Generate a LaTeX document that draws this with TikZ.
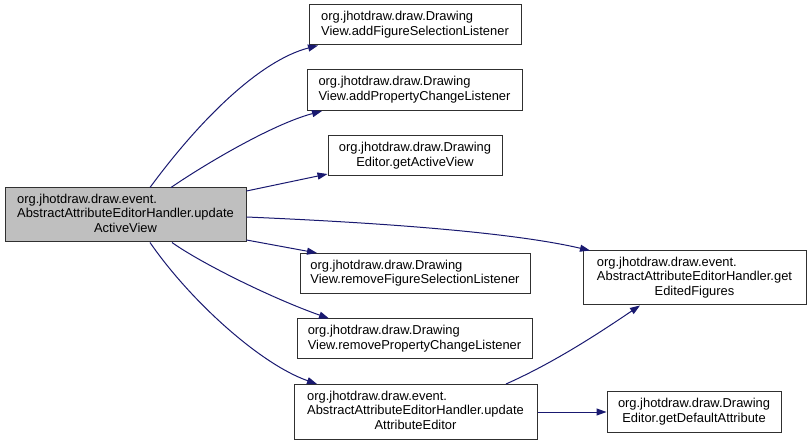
\documentclass[tikz,border=0pt]{standalone}
\usepackage{fontspec}
\setmainfont{Liberation Sans}
\usetikzlibrary{arrows.meta}
\definecolor{edgeblue}{HTML}{191970}
\definecolor{boxline}{HTML}{303030}
\definecolor{mainfill}{HTML}{BFBFBF}
\newcommand\twoline[2]{\begin{tabular}{@{}l@{}}#1\\\multicolumn{1}{@{}c@{}}{#2}\end{tabular}}
\newcommand\threeline[3]{\begin{tabular}{@{}l@{}}#1\\#2\\\multicolumn{1}{@{}c@{}}{#3}\end{tabular}}
\tikzset{
  fbox/.style={draw=boxline, line width=1pt, fill=white, inner sep=0pt, align=center,
    font=\fontsize{12.9}{14.5}\selectfont},
  mainbox/.style={fbox, fill=mainfill},
  call/.style={draw=edgeblue, line width=1pt, -{Triangle[length=10pt,width=7pt]}, fill=none}
}
\begin{document}
\begin{tikzpicture}[x=1pt,y=-1pt]
\useasboundingbox (0,0) rectangle (809,446);
\node[mainbox, minimum width=241pt, minimum height=54pt] (main) at (125.5,215)
  {\threeline{org.jhotdraw.draw.event.}{AbstractAttributeEditorHandler.update}{ActiveView}};
\node[fbox, minimum width=212pt, minimum height=40pt] (b1) at (415,25)
  {\twoline{org.jhotdraw.draw.Drawing}{View.addFigureSelectionListener}};
\node[fbox, minimum width=215pt, minimum height=41pt] (b2) at (414.5,90)
  {\twoline{org.jhotdraw.draw.Drawing}{View.addPropertyChangeListener}};
\node[fbox, minimum width=174pt, minimum height=40pt] (b3) at (415,156)
  {\twoline{org.jhotdraw.draw.Drawing}{Editor.getActiveView}};
\node[fbox, minimum width=230pt, minimum height=40pt] (b4) at (415,273.5)
  {\twoline{org.jhotdraw.draw.Drawing}{View.removeFigureSelectionListener}};
\node[fbox, minimum width=235pt, minimum height=40pt] (b5) at (414.5,339)
  {\twoline{org.jhotdraw.draw.Drawing}{View.removePropertyChangeListener}};
\node[fbox, minimum width=243pt, minimum height=55pt] (b6) at (415.5,412)
  {\threeline{org.jhotdraw.draw.event.}{AbstractAttributeEditorHandler.update}{AttributeEditor}};
\node[fbox, minimum width=223pt, minimum height=54pt] (b7) at (694.5,278)
  {\threeline{org.jhotdraw.draw.event.}{AbstractAttributeEditorHandler.get}{EditedFigures}};
\node[fbox, minimum width=174pt, minimum height=40pt] (b8) at (694,412)
  {\twoline{org.jhotdraw.draw.Drawing}{Editor.getDefaultAttribute}};

\draw[call] ([xshift=24.5pt]main.north) .. controls +(50,-68) and +(-58,15) .. ([xshift=-97pt]b1.south);
\draw[call] ([xshift=45.5pt]main.north) .. controls +(29,-20) and +(-52,14) .. ([xshift=-92.5pt]b2.south);
\draw[call] ([yshift=24pt]main.east) -- ([yshift=-18pt]b3.west);
\draw[call] ([yshift=-2pt]main.east) .. controls +(93,4) and +(-90,-21) .. ([xshift=-104.5pt]b7.north);
\draw[call] ([yshift=-25pt]main.east) -- ([xshift=-98pt]b4.north);
\draw[call] ([xshift=46.5pt]main.south) .. controls +(28,20) and +(-59,-21) .. ([xshift=-85.5pt]b5.north);
\draw[call] ([xshift=24.5pt]main.south) .. controls +(40,58) and +(-57,-20) .. ([xshift=-98.5pt]b6.north);
\draw[call] ([xshift=90.5pt]b6.north) .. controls +(54,-24) and +(-30,20) .. ([xshift=-54.5pt]b7.south);
\draw[call] (b6.east) -- (b8.west);
\end{tikzpicture}
\end{document}
